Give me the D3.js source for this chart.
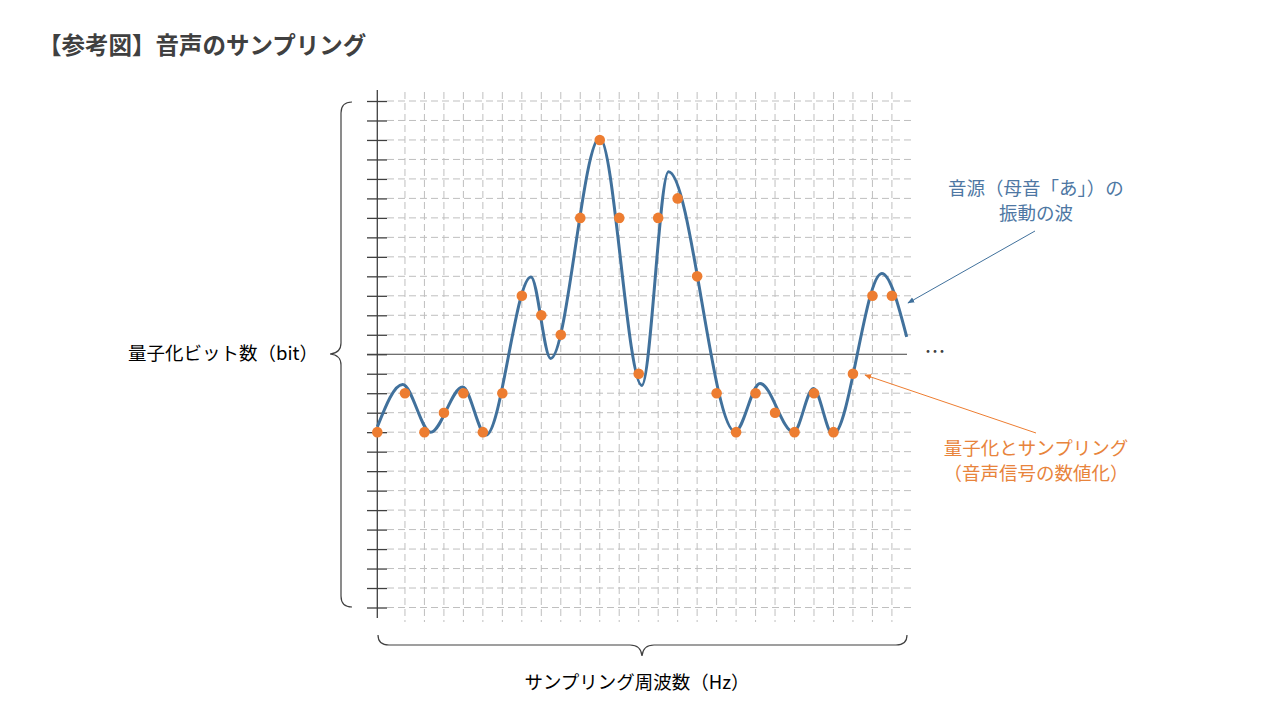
<!DOCTYPE html>
<html>
<head>
<meta charset="utf-8">
<script src="https://cdn.jsdelivr.net/npm/d3@7"></script>
<style>
  body { margin: 0; background: #fff; }
  text { font-family: "Noto Sans CJK JP", "Noto Sans", sans-serif; }
</style>
</head>
<body>
<svg id="chart" width="1280" height="720"></svg>
<script>
// sample positions (grid columns; the first sample sits on the axis)
const samplePos = [-1.42, 0, 1, 2, 3, 4, 5, 6, 7, 8, 9, 10, 11, 12, 13, 14, 15, 16, 17, 18, 19, 20, 21, 22, 23, 24, 25];
// quantized levels of each sample
const sampleLevel = [-4, -2, -4, -3, -2, -4, -2, 3, 2, 1, 7, 11, 7, -1, 7, 8, 4, -2, -4, -2, -3, -4, -2, -4, -1, 3, 3];

// source wave: turning points
const waveX = [-1.42, -0.12, 1.32, 2.96, 4.16, 6.47, 7.48, 10.0, 12.16, 13.53, 16.95, 18.23, 19.95, 20.97, 21.97, 24.48, 25.76];
const waveY = [-3.73, -1.55, -4.0, -1.68, -4.15, 3.97, -0.22, 11.1, -1.6, 9.37, -3.97, -1.5, -4.0, -1.76, -4.13, 4.15, 0.89];

const levelTicks = d3.range(-13, 14);
const gridCols = d3.range(0, 26);

const title = "【参考図】音声のサンプリング";
const yLabel = "量子化ビット数（bit）";
const xLabel = "サンプリング周波数（Hz）";
const waveNote = ["音源（母音「あ」）の", "振動の波"];
const sampleNote = ["量子化とサンプリング", "（音声信号の数値化）"];

const blue = "#41719c", orange = "#ed7d31", dark = "#404040", grid = "#bfbfbf";

const svg = d3.select("#chart");

const x = d3.scaleLinear().domain([-1.42, 25.98]).range([377.3, 911]);
const y = d3.scaleLinear().domain([-13, 13]).range([607.5, 101]);

const defs = svg.append("defs");
[["arrowBlue", blue], ["arrowOrange", orange]].forEach(([id, c]) => {
  defs.append("marker")
    .attr("id", id)
    .attr("viewBox", "0 0 10 10")
    .attr("refX", 9).attr("refY", 5)
    .attr("markerWidth", 7).attr("markerHeight", 7)
    .attr("orient", "auto")
    .append("path")
    .attr("d", "M0,1 L10,5 L0,9 Z")
    .attr("fill", c);
});

// title
svg.append("text")
  .attr("x", 38).attr("y", 54)
  .attr("font-size", 23.5).attr("font-weight", "bold")
  .attr("fill", dark)
  .text(title);

// grid
const g = svg.append("g");
g.selectAll("line.hgrid")
  .data(levelTicks.filter(d => d !== 0))
  .enter().append("line")
  .attr("class", "hgrid")
  .attr("x1", 387).attr("x2", 911)
  .attr("y1", d => y(d)).attr("y2", d => y(d))
  .attr("stroke", grid).attr("stroke-width", 1)
  .attr("stroke-dasharray", "7,4");

g.selectAll("line.vgrid")
  .data(gridCols)
  .enter().append("line")
  .attr("class", "vgrid")
  .attr("x1", d => x(d)).attr("x2", d => x(d))
  .attr("y1", 92).attr("y2", 622)
  .attr("stroke", grid).attr("stroke-width", 1)
  .attr("stroke-dasharray", "7,4");

// zero line
g.append("line")
  .attr("x1", 367).attr("x2", 907)
  .attr("y1", y(0)).attr("y2", y(0))
  .attr("stroke", dark).attr("stroke-width", 1);

// y axis with ticks crossing it
const yAxis = d3.axisLeft(y)
  .tickValues(levelTicks)
  .tickSize(20)
  .tickSizeOuter(0)
  .tickFormat("");
const ax = g.append("g")
  .attr("transform", "translate(387,0)")
  .call(yAxis);
ax.select(".domain").remove();
ax.selectAll(".tick line").attr("stroke", dark).attr("stroke-width", 1.3);

g.append("line")
  .attr("x1", 377.3).attr("x2", 377.3)
  .attr("y1", 90).attr("y2", 618)
  .attr("stroke", dark).attr("stroke-width", 1.3);

// wave
const line = d3.line()
  .x(d => x(d[0]))
  .y(d => y(d[1]))
  .curve(d3.curveMonotoneX);

g.append("path")
  .datum(d3.zip(waveX, waveY))
  .attr("d", line)
  .attr("fill", "none")
  .attr("stroke", blue)
  .attr("stroke-width", 3);

// samples
g.selectAll("circle.sample")
  .data(d3.zip(samplePos, sampleLevel))
  .enter().append("circle")
  .attr("class", "sample")
  .attr("cx", d => x(d[0]))
  .attr("cy", d => y(d[1]))
  .attr("r", 5.3)
  .attr("fill", orange);

// braces
svg.append("path")
  .attr("d", "M352,102 Q341,102 341,113 L341,343 Q341,353 330,354 Q341,355 341,365 L341,596 Q341,607 352,607")
  .attr("fill", "none").attr("stroke", dark).attr("stroke-width", 1.2);
svg.append("path")
  .attr("d", "M378,635 Q378,645 389,645 L630,645 Q641,645 642,656 Q643,645 654,645 L896,645 Q907,645 907,635")
  .attr("fill", "none").attr("stroke", dark).attr("stroke-width", 1.2);

// axis labels
svg.append("text")
  .attr("x", 318).attr("y", 354)
  .attr("dy", "0.35em")
  .attr("text-anchor", "end")
  .attr("font-size", 18.5).attr("fill", "#000")
  .text(yLabel);

svg.append("text")
  .attr("x", 637).attr("y", 683)
  .attr("dy", "0.35em")
  .attr("text-anchor", "middle")
  .attr("font-size", 18.5).attr("fill", "#000")
  .text(xLabel);

svg.append("text")
  .attr("x", 935).attr("y", 352)
  .attr("dy", "0.35em")
  .attr("text-anchor", "middle")
  .attr("font-size", 21).attr("fill", dark)
  .text("…");

// annotations (one text element per note, one tspan per line)
function note(lines, cx, top, color) {
  const t = svg.append("text")
    .attr("x", cx).attr("y", top)
    .attr("text-anchor", "middle")
    .attr("font-size", 18.5).attr("fill", color);
  t.selectAll("tspan")
    .data(lines)
    .enter().append("tspan")
    .attr("x", cx)
    .attr("dy", (d, i) => i === 0 ? "0.35em" : 25)
    .text(d => d);
}

note(waveNote, 1036, 189, "#4e77a3");
svg.append("line")
  .attr("x1", 1035).attr("y1", 231)
  .attr("x2", 908).attr("y2", 303)
  .attr("stroke", blue).attr("stroke-width", 1)
  .attr("marker-end", "url(#arrowBlue)");

note(sampleNote, 1036, 449, "#e8843c");
svg.append("line")
  .attr("x1", 1036).attr("y1", 433)
  .attr("x2", 865).attr("y2", 375)
  .attr("stroke", orange).attr("stroke-width", 1)
  .attr("marker-end", "url(#arrowOrange)");
</script>
</body>
</html>
